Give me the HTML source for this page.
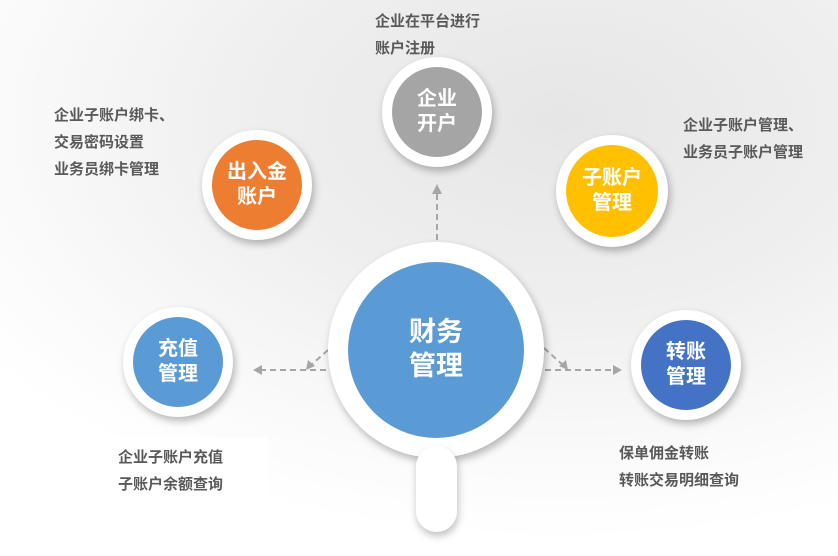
<!DOCTYPE html>
<html><head><meta charset="utf-8"><style>
body{margin:0;width:838px;height:556px;overflow:hidden;font-family:"Liberation Sans","Noto Sans CJK SC",sans-serif;
background:radial-gradient(ellipse 700px 420px at 560px 120px,#e6e6e6 0%,#efefef 45%,#fafafa 80%,#fff 100%);position:relative}
.c{position:absolute;border-radius:50%;background:#fff;box-shadow:2px 4px 8px rgba(0,0,0,.28)}
.i{position:absolute;border-radius:50%;color:#fff;font-weight:bold;display:flex;align-items:center;justify-content:center;text-align:center;line-height:1.25}
.t{position:absolute;color:#595959;font-weight:bold;font-size:15px;line-height:27px}
</style></head><body>
<svg width="838" height="556" style="position:absolute;left:0;top:0">
<g stroke="#a6a6a6" stroke-width="2" stroke-dasharray="6,4" fill="none">
<line x1="437" y1="240" x2="437" y2="192"/>
<line x1="326" y1="370" x2="262" y2="370"/>
<line x1="328" y1="350" x2="310" y2="366"/>
<line x1="545" y1="370" x2="614" y2="370"/>
<line x1="544" y1="348" x2="564" y2="366"/>
</g>
<g fill="#a6a6a6">
<polygon points="437,184 432,194 442,194"/>
<polygon points="253,370 262,365 262,375"/>
<polygon points="622,370 613,365 613,375"/>
<polygon points="306,370 308,360 315,366"/>
<polygon points="568,370 559,366 566,360"/>
</g>
</svg>
<div class="c" style="left:328px;top:242px;width:216px;height:216px"></div>
<div style="position:absolute;left:416px;top:446px;width:41px;height:86px;border-radius:21px;background:#fff;box-shadow:1px 4px 8px rgba(0,0,0,.25)"></div>
<div class="i" style="left:348px;top:262px;width:176px;height:176px;background:#5b9bd5;font-size:27px">财务<br>管理</div>

<div class="c" style="left:382px;top:57px;width:110px;height:110px"></div>
<div class="i" style="left:392px;top:67px;width:90px;height:90px;background:#a5a5a5;font-size:20px">企业<br>开户</div>
<div class="c" style="left:202px;top:130px;width:110px;height:110px"></div>
<div class="i" style="left:212px;top:140px;width:90px;height:90px;background:#ed7d31;font-size:20px">出入金<br>账户</div>
<div class="c" style="left:556px;top:135px;width:112px;height:112px"></div>
<div class="i" style="left:566px;top:145px;width:92px;height:92px;background:#ffc000;font-size:20px">子账户<br>管理</div>
<div class="c" style="left:123px;top:307px;width:110px;height:110px"></div>
<div class="i" style="left:133px;top:317px;width:90px;height:90px;background:#5b9bd5;font-size:20px">充值<br>管理</div>
<div class="c" style="left:631px;top:310px;width:110px;height:110px"></div>
<div class="i" style="left:641px;top:320px;width:90px;height:90px;background:#4472c4;font-size:20px">转账<br>管理</div>

<div class="t" style="left:375px;top:8px">企业在平台进行<br>账户注册</div>
<div class="t" style="left:54px;top:102px">企业子账户绑卡、<br>交易密码设置<br>业务员绑卡管理</div>
<div class="t" style="left:683px;top:112px">企业子账户管理、<br>业务员子账户管理</div>
<div style="position:absolute;left:80px;top:437px;width:188px;height:62px;background:#fff"></div>
<div class="t" style="left:118px;top:444px">企业子账户充值<br>子账户余额查询</div>
<div class="t" style="left:619px;top:440px">保单佣金转账<br>转账交易明细查询</div>
</body></html>
